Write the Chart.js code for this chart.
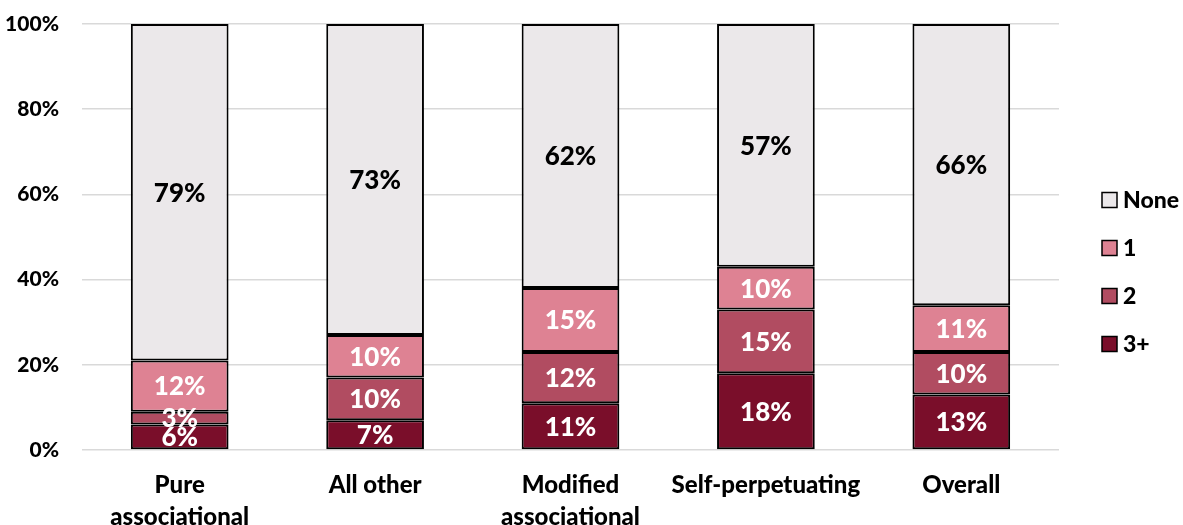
<!DOCTYPE html>
<html>
<head>
<meta charset="utf-8">
<script src="https://cdn.jsdelivr.net/npm/chart.js@4"></script>
<style>
  html, body { margin: 0; padding: 0; background: #fff; }
  #wrap { width: 1183px; height: 525px; }
</style>
</head>
<body>
<div id="wrap"><canvas id="boardChart" width="1183" height="525"></canvas></div>
<script>
// ---------- Data ----------
const categories = [['Pure', 'associational'], 'All other', ['Modified', 'associational'], 'Self-perpetuating', 'Overall'];
const threePlus = [6, 7, 11, 18, 13];
const two = [3, 10, 12, 15, 10];
const one = [12, 10, 15, 10, 11];
const none = [79, 73, 62, 57, 66];
const yTicks = [0, 20, 40, 60, 80, 100];

const FONT = 'Lato, "Open Sans", sans-serif';

// ---------- Labels inside the segments ----------
const segmentLabels = {
    id: 'segmentLabels',
    afterDatasetsDraw(chart) {
        const ctx = chart.ctx;
        ctx.save();
        ctx.font = '900 26px ' + FONT;
        ctx.textAlign = 'center';
        ctx.textBaseline = 'middle';
        chart.data.datasets.forEach((ds, i) => {
            const meta = chart.getDatasetMeta(i);
            meta.data.forEach((bar, j) => {
                const mid = (bar.y + bar.base) / 2;
                ctx.fillStyle = ds.labelColor;
                ctx.fillText(ds.data[j] + '%', bar.x, mid + 1);
            });
        });
        ctx.restore();
    }
};

// ---------- Legend on the right (None on top) ----------
const sideLegend = {
    id: 'sideLegend',
    afterDraw(chart) {
        const ctx = chart.ctx;
        const items = chart.data.datasets.slice().reverse();
        ctx.save();
        ctx.font = '900 23px ' + FONT;
        ctx.textBaseline = 'middle';
        ctx.textAlign = 'left';
        items.forEach((ds, k) => {
            const cy = 200 + k * 48;
            ctx.fillStyle = ds.backgroundColor;
            ctx.fillRect(1102, cy - 7.5, 15, 15);
            ctx.strokeStyle = '#000000';
            ctx.lineWidth = 1.5;
            ctx.strokeRect(1102, cy - 7.5, 15, 15);
            ctx.fillStyle = '#000000';
            ctx.fillText(ds.label, 1123, cy + 1);
        });
        ctx.restore();
    }
};

const ctx = document.getElementById('boardChart').getContext('2d');
const chart = new Chart(ctx, {
    type: 'bar',
    data: {
        labels: categories,
        datasets: [
            { label: '3+', data: threePlus, backgroundColor: '#7A0E2A', labelColor: '#ffffff' },
            { label: '2', data: two, backgroundColor: '#B14C61', labelColor: '#ffffff' },
            { label: '1', data: one, backgroundColor: '#DE8293', labelColor: '#ffffff' },
            { label: 'None', data: none, backgroundColor: '#EBE8EA', labelColor: '#000000' }
        ].map(d => Object.assign(d, {
            borderColor: '#000000',
            borderWidth: 2,
            borderSkipped: false,
            barPercentage: 0.5,
            categoryPercentage: 1.0
        }))
    },
    options: {
        responsive: false,
        animation: false,
        layout: { padding: { top: 24, right: 124, bottom: 0, left: 0 } },
        plugins: {
            tooltip: { enabled: false },
            legend: { display: false }
        },
        scales: {
            x: {
                stacked: true,
                afterFit(scale) { scale.height = 75; },
                grid: { display: false, drawTicks: false },
                border: { display: false },
                ticks: {
                    color: '#000000',
                    padding: 20,
                    maxRotation: 0,
                    autoSkip: false,
                    font: { family: FONT, size: 24, weight: '900', lineHeight: 1.3 }
                }
            },
            y: {
                stacked: true,
                min: 0,
                max: 100,
                afterFit(scale) {
                    scale.width = 82;
                    scale.paddingTop = 0;
                    scale.paddingBottom = 0;
                },
                afterBuildTicks(scale) { scale.ticks = yTicks.map(v => ({ value: v })); },
                grid: { color: '#D9D9D9', lineWidth: 1.5, drawTicks: false },
                border: { display: false },
                ticks: {
                    color: '#000000',
                    padding: 23,
                    font: { family: FONT, size: 21, weight: '900' },
                    callback: v => v + '%'
                }
            }
        }
    },
    plugins: [segmentLabels, sideLegend]
});
</script>
</body>
</html>
